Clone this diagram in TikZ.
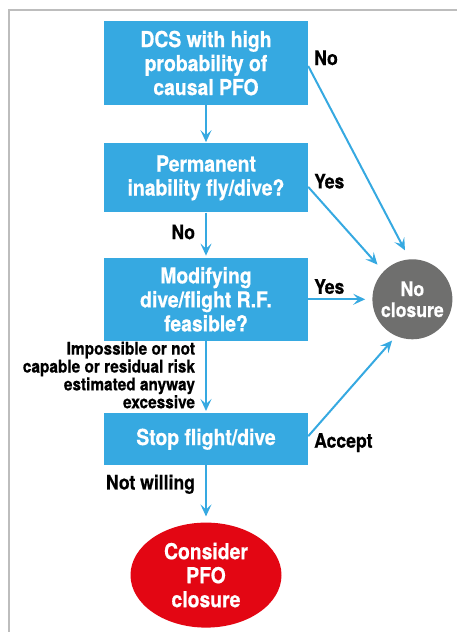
\documentclass[tikz,border=0pt]{standalone}
\usepackage{fontspec}
\setmainfont{TeX Gyre Heros}[FakeStretch=0.88, BoldFeatures={FakeBold=0.6}]
\usetikzlibrary{arrows.meta,positioning,shapes.geometric}
\definecolor{flowblue}{HTML}{36A9E1}
\definecolor{closegrey}{HTML}{6F6F6E}
\definecolor{pfored}{HTML}{E30613}
\definecolor{framegrey}{HTML}{BDBDBD}
\tikzset{
    %Define standard arrow tip
    >={Stealth[length=12pt,width=11pt,inset=5pt]},
    %Define style for boxes
    stepbox/.style={
           rectangle,
           fill=flowblue,
           text=white,
           minimum width=204pt,
           inner sep=2pt,
           align=center,
           font=\fontsize{22}{24}\selectfont\bfseries},
    % Define end node styles
    noclosure/.style={
           circle,
           fill=closegrey,
           text=white,
           minimum size=80pt,
           inner sep=0pt,
           align=center,
           font=\fontsize{20}{21}\selectfont\bfseries},
    closure/.style={
           ellipse,
           fill=pfored,
           text=white,
           minimum width=151pt,
           minimum height=105pt,
           inner sep=0pt,
           align=center,
           font=\fontsize{22}{24}\selectfont\bfseries},
    % Define arrow and label styles
    flow/.style={
           ->,
           draw=flowblue,
           line width=2pt},
    answer/.style={
           text=black,
           inner sep=0pt,
           font=\fontsize{20}{22}\selectfont\bfseries},
    reason/.style={
           answer,
           align=right,
           font=\fontsize{17.5}{15.7}\selectfont\bfseries}
}
\begin{document}
\begin{tikzpicture}[x=1pt, y=-1pt, node distance=38pt]
 \useasboundingbox (0,0) rectangle (457,632);
 \draw[framegrey, line width=1.5pt] (457,10) -- (9,10) -- (9,632);
 \node[stepbox, minimum height=84pt] (dcs) at (206,63) {DCS with high\\probability of\\causal PFO};
 \node[stepbox, minimum height=69pt, below=38pt of dcs] (perm) {Permanent\\inability fly/dive?};
 \node[stepbox, minimum height=83pt, below=45pt of perm] (modify) {Modifying\\dive/flight R.F.\\feasible?};
 \node[stepbox, minimum height=52pt, below=72pt of modify] (stop) {Stop flight/dive};
 \node[closure, below=57pt of stop] (pfo) {Consider\\PFO\\closure};
 \node[noclosure, right=64pt of modify] (noclose) {No\\closure};
 % down the left column
 \draw[flow, shorten >=1pt] (dcs) -- (perm);
 \draw[flow, shorten >=2pt] (perm) -- node[answer, left=10pt, pos=0.43] (lno) {No} (modify);
 \draw[flow, shorten >=2pt] (modify) -- node[reason, left=10pt, midway, yshift=2pt] (lreason) {Impossible or not\\capable or residual risk\\estimated anyway\\excessive} (stop);
 \draw[flow, shorten >=6pt] (stop) -- node[answer, left=10pt, pos=0.33] (lnw) {Not willing} (pfo);
 % over to no closure
 \draw[flow, shorten >=10pt] ([yshift=-3pt]dcs.east) -- node[answer, at start, anchor=base west, xshift=5pt, yshift=1pt] (lnoa) {No} (noclose.94);
 \draw[flow, shorten >=9pt] ([yshift=-9pt]perm.east) -- node[answer, at start, anchor=base west, xshift=5pt, yshift=-1.5pt] (lyesa) {Yes} (noclose.136);
 \draw[flow, shorten >=7pt] (modify) -- node[answer, at start, anchor=base west, xshift=5pt, yshift=5.5pt] (lyesb) {Yes} (noclose);
 \draw[flow, shorten >=6pt] ([yshift=3pt]stop.east) -- node[answer, at start, anchor=base west, xshift=5pt, yshift=-11.5pt] (laccept) {Accept} (noclose.246);
\end{tikzpicture}
\end{document}
